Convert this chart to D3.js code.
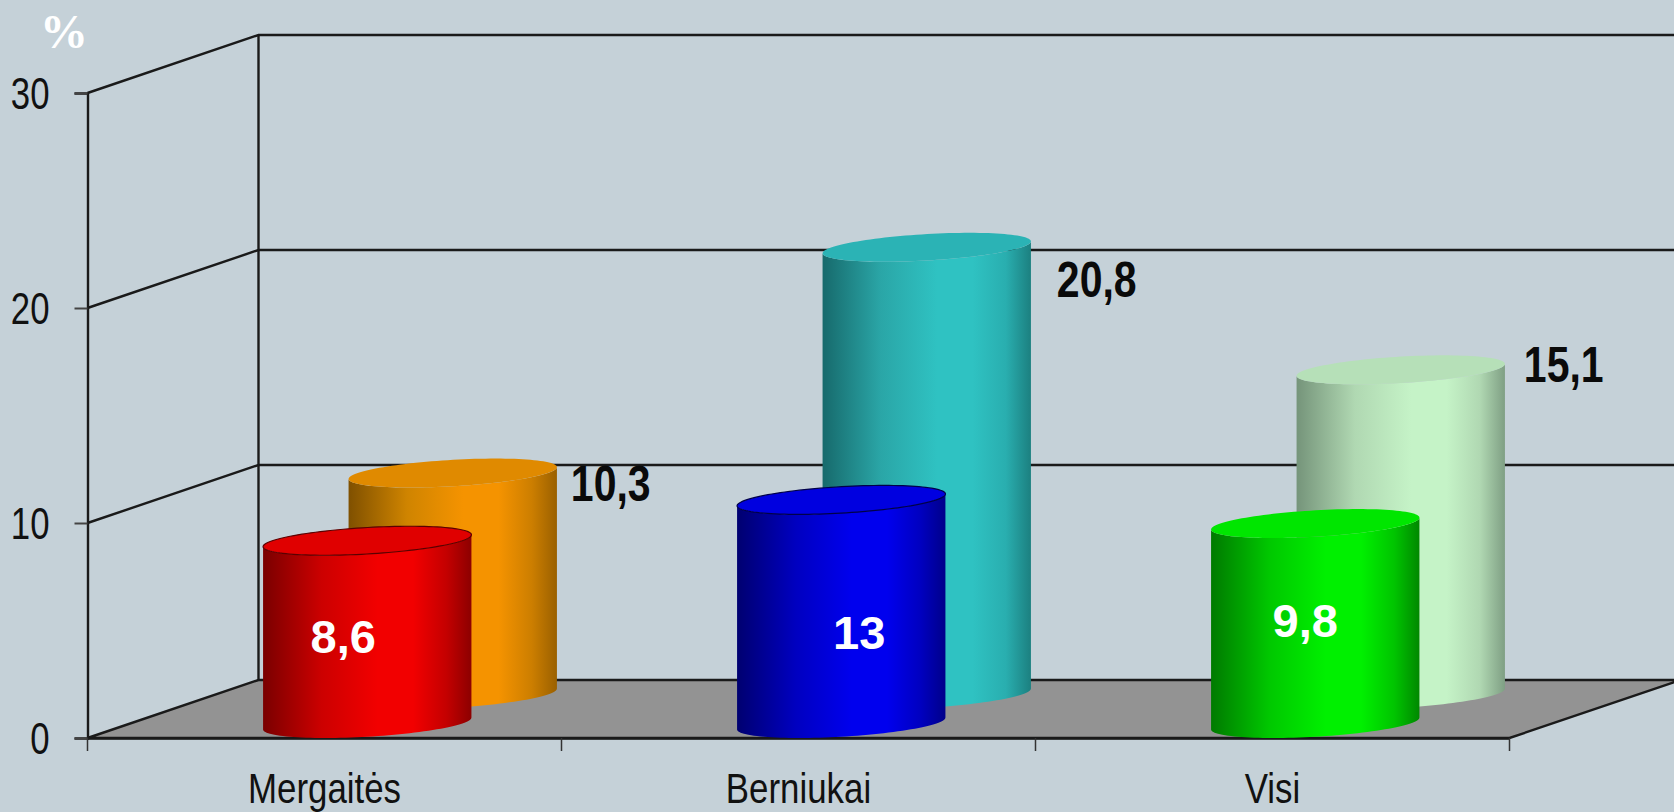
<!DOCTYPE html>
<html><head><meta charset="utf-8">
<script src="https://cdn.jsdelivr.net/npm/d3@7/dist/d3.min.js"></script>
<style>html,body{margin:0;padding:0;background:#c5d1d8;overflow:hidden}svg{display:block}</style>
</head><body><svg id="c" width="1674" height="812"></svg>
<script>
const categories = ["Mergaitės", "Berniukai", "Visi"];
const frontHeights = [8.5, 10.4, 9.3];
const backHeights = [10.3, 20.8, 15.1];
const frontLabels = ["8,6", "13", "9,8"];
const backLabels = ["10,3", "20,8", "15,1"];
const yTicks = [0, 10, 20, 30];
const frontColors = [
  {top:"#e00000", edge:"#5a0000", stops:["#7a0000","#cc0000","#f20000","#f20000","#c40000","#8c0000"]},
  {top:"#0000e0", edge:"#00004a", stops:["#000070","#0000c0","#0000ee","#0000ee","#0000c0","#00008a"]},
  {top:"#00e600", edge:"none",    stops:["#007a00","#00c800","#00f000","#00f000","#00c400","#008800"]}
];
const backColors = [
  {top:"#e08a00", edge:"none", stops:["#7f5000","#cf8400","#f59300","#f59300","#cc7e00","#9a6000"]},
  {top:"#2bb3b5", edge:"none", stops:["#176a6c","#2aa6a7","#2fc2c2","#2fc2c2","#29aeaf","#1c8080"]},
  {top:"#b6e0b8", edge:"none", stops:["#75947a","#b0d8b2","#c5f3c7","#c5f3c7","#b0d8b2","#7f9f84"]}
];
const stopOffsets = [0, .28, .55, .72, .88, 1];

const W = 1674, H = 812;
const depthX = 171, depthY = -58;
const y = d3.scaleLinear().domain([0, 30]).range([738, 93]);
const x = d3.scaleBand().domain(categories).range([87.5, 1509.5]);
const svg = d3.select("#c");
const font = "'Liberation Sans',Arial,sans-serif";
const ink = "#1a1a1a";
const lineW = 2.4;
const defs = svg.append("defs");

svg.append("rect").attr("width", W).attr("height", H).attr("fill", "#c5d1d8");

// floor
const x0 = x.range()[0], x1 = x.range()[1], yz = y(0);
svg.append("path")
  .attr("d", d3.line()([[x0,yz],[x0+depthX,yz+depthY],[x1+depthX,yz+depthY],[x1,yz]])+"Z")
  .attr("fill", "#939393").attr("stroke", ink).attr("stroke-width", lineW);

// back wall and side wall
yTicks.filter(d => d > 0).forEach(d => {
  svg.append("path").attr("fill","none").attr("stroke",ink).attr("stroke-width",lineW)
    .attr("d", d3.line()([[x0,y(d)],[x0+depthX,y(d)+depthY],[W+10,y(d)+depthY]]));
});
svg.append("line").attr("x1",x0+depthX).attr("x2",x0+depthX)
  .attr("y1",y(30)+depthY).attr("y2",yz+depthY).attr("stroke",ink).attr("stroke-width",lineW);

// axes
const yAxis = svg.append("g").attr("transform",`translate(${x0},0)`)
  .call(d3.axisLeft(y).tickValues(yTicks).tickSize(13));
yAxis.selectAll("text").attr("font-family",font).attr("font-size",44).attr("fill","#111")
  .attr("x",0).attr("dy","0.36em").attr("transform",`translate(-38,0) scale(0.79,1)`);
const xAxis = svg.append("g").attr("transform",`translate(0,${yz})`)
  .call(d3.axisBottom(x).tickSize(0));
xAxis.selectAll("text").attr("font-family",font).attr("font-size",42).attr("fill","#111")
  .attr("y",0).attr("dy","0.36em").attr("transform",`translate(0,50) scale(0.83,1)`);
svg.selectAll("g .domain").attr("stroke",ink).attr("stroke-width",lineW);
yAxis.selectAll(".tick line").attr("stroke","#444").attr("stroke-width",2);
[...categories.map(c=>x(c)), x1].forEach(px => {
  svg.append("line").attr("x1",px).attr("x2",px).attr("y1",yz).attr("y2",yz+13)
    .attr("stroke","#333").attr("stroke-width",1.5);
});

// cylinders
const halfWidth = 95, discDepth = 0.25;
const t0 = Math.atan2(discDepth*depthX, halfWidth);
function rimPoint(cx, cy, t){
  return [cx + halfWidth*Math.cos(t) + discDepth*depthX*Math.sin(t),
          cy + discDepth*depthY*Math.sin(t)];
}
const steps = d3.range(0, 61);
function cylinder(cat, value, colors, depthPos, id){
  const cx = x(cat) + x.bandwidth()/2 + depthPos*depthX;
  const base = yz + depthPos*depthY;
  const top = base - (yz - y(value));
  const grad = defs.append("linearGradient").attr("id",id).attr("x1",0).attr("x2",1).attr("y1",0).attr("y2",0);
  colors.stops.forEach((c,i)=>grad.append("stop").attr("offset",stopOffsets[i]).attr("stop-color",c));
  const front = steps.map(i => t0 + Math.PI + Math.PI*i/60);
  const bottomPts = front.map(t => rimPoint(cx, base, t));
  const topPts = front.slice().reverse().map(t => rimPoint(cx, top, t));
  svg.append("path").attr("d", d3.line()(bottomPts.concat(topPts))+"Z").attr("fill",`url(#${id})`);
  const rim = d3.range(0,121).map(i => rimPoint(cx, top, i*Math.PI/60));
  svg.append("path").attr("d", d3.line()(rim)+"Z").attr("fill",colors.top)
    .attr("stroke",colors.edge).attr("stroke-width",colors.edge==="none"?0:1.2);
  return {cx, top, base};
}
const backGeom = categories.map((c,i)=>cylinder(c, backHeights[i], backColors[i], .75, "b"+i));
const frontGeom = categories.map((c,i)=>cylinder(c, frontHeights[i], frontColors[i], .25, "f"+i));

// value labels
const backNudge = [[158,15],[170,36],[163,-1]];
const frontNudge = [[-24,100],[18,137],[-10,101]];
backLabels.forEach((l,i)=>{
  const px = backGeom[i].cx+backNudge[i][0], py = backGeom[i].top+backNudge[i][1];
  svg.append("text").text(l).attr("text-anchor","middle").attr("dominant-baseline","middle")
    .attr("transform",`translate(${px},${py}) scale(0.82,1)`)
    .attr("font-family",font).attr("font-weight",700).attr("font-size",50).attr("fill","#0a0a0a");
});
frontLabels.forEach((l,i)=>{
  svg.append("text").text(l).attr("x",frontGeom[i].cx+frontNudge[i][0]).attr("y",frontGeom[i].top+frontNudge[i][1])
    .attr("text-anchor","middle").attr("dominant-baseline","middle")
    .attr("font-family",font).attr("font-weight",700).attr("font-size",47).attr("fill","#fff");
});

// unit
svg.append("text").text("%").attr("x",64).attr("y",48).attr("text-anchor","middle")
  .attr("font-family","'Liberation Serif','Times New Roman',serif").attr("font-weight",700)
  .attr("font-size",48).attr("fill","#fff");
</script></body></html>
